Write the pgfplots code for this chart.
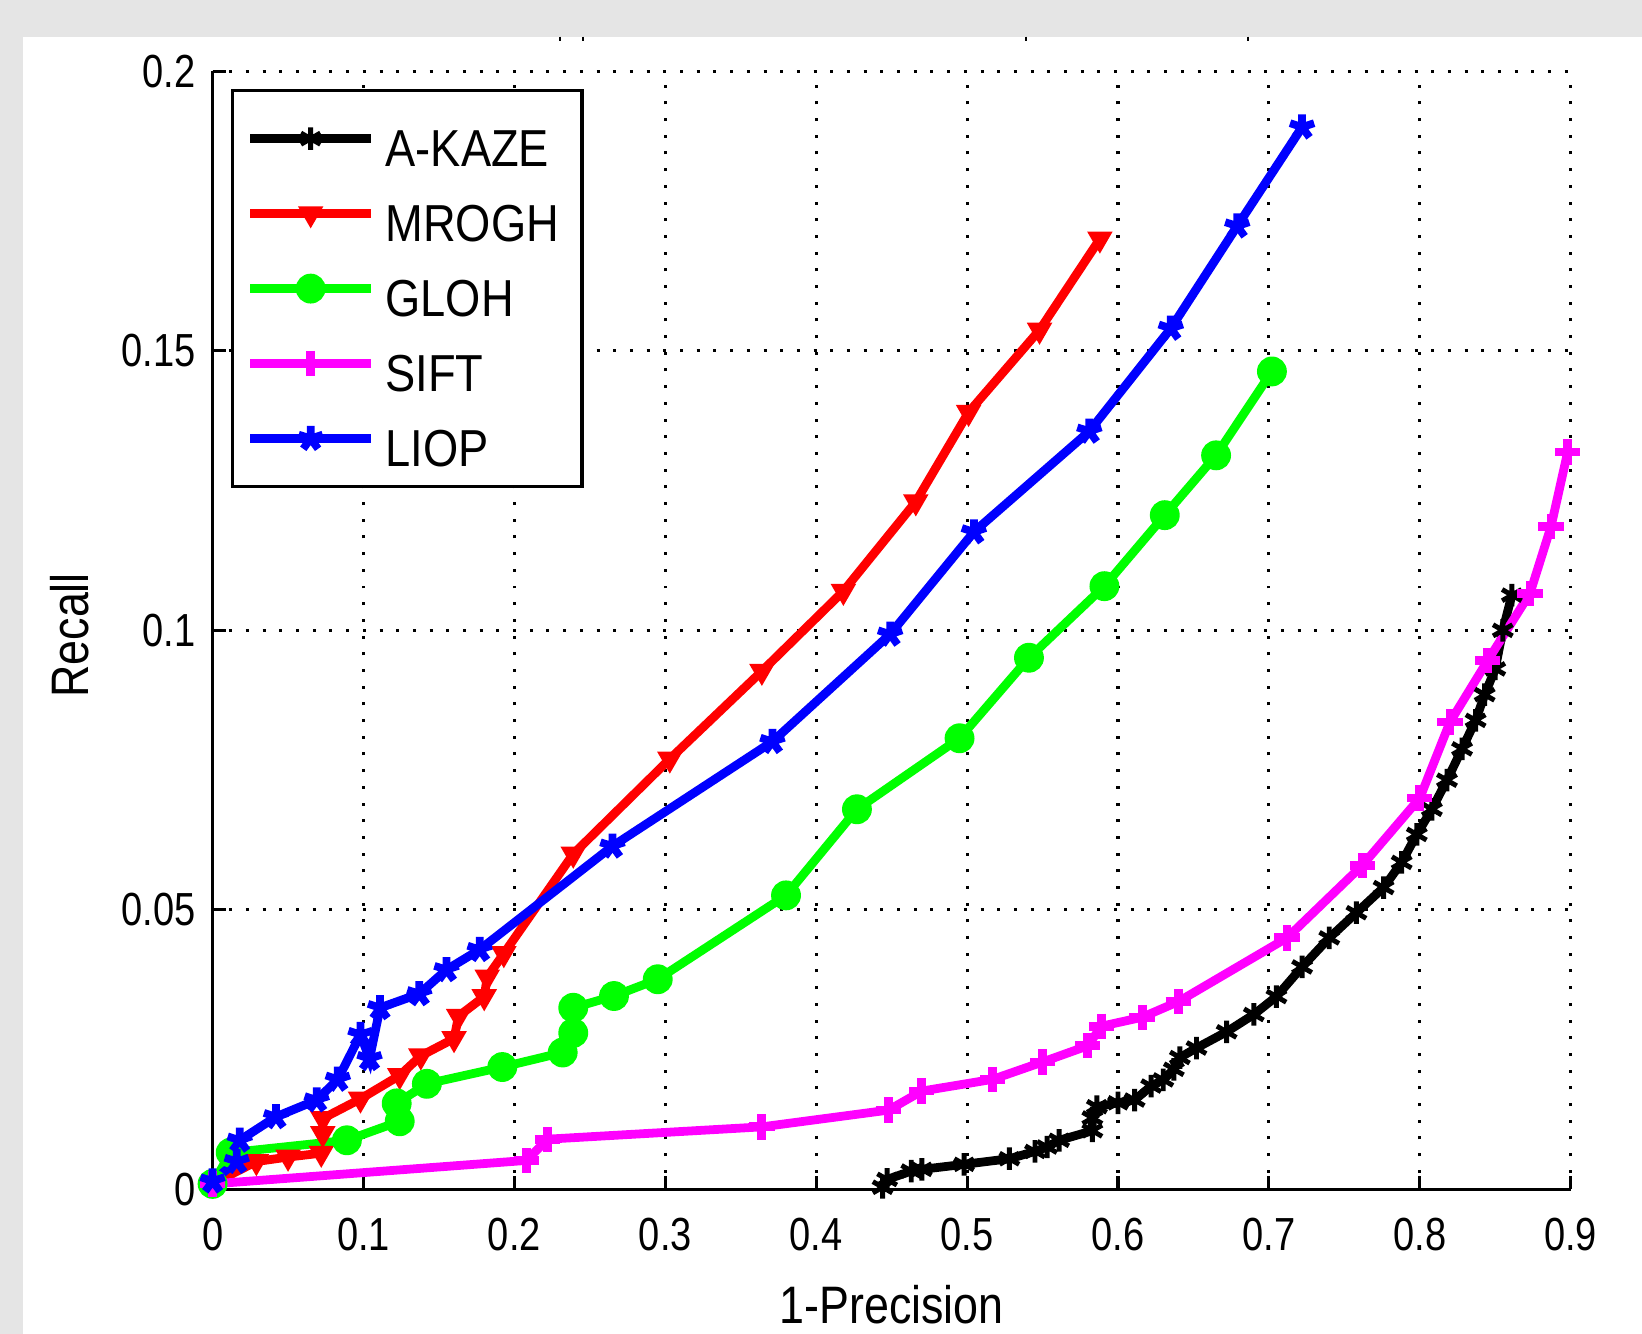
\documentclass[border=0pt]{standalone}
\usepackage{fontspec}
\setmainfont{Liberation Sans}
\newfontfamily\legfont{Liberation Sans}[FakeStretch=0.87]
\newfontfamily\labfont{Liberation Sans}[FakeStretch=0.85]
\newfontfamily\tickfont{Liberation Sans}[FakeStretch=0.82]
\usepackage{pgfplots}
\pgfplotsset{compat=1.18}
\definecolor{bggray}{RGB}{229,229,229}
\definecolor{mred}{RGB}{255,0,0}
\definecolor{mgreen}{RGB}{0,255,0}
\definecolor{mblue}{RGB}{0,0,255}
\definecolor{mmag}{RGB}{255,0,255}
\newcommand\ls{\rule[-0.075cm]{0pt}{0.68cm}}

\begin{document}
\begin{tikzpicture}
% figure background (gray margin top and left)
\fill[bggray] (-2.126,-1.445) rectangle (14.294,11.895);
\fill[white] (-1.896,-1.445) rectangle (14.294,11.529);
\foreach \x in {3.474,3.704,8.134,10.354} \draw[line width=0.7pt] (\x,11.529) -- (\x,11.48);

\begin{axis}[
    scale only axis,
    width=13.581cm,
    height=11.183cm,
    xmin=0, xmax=0.9,
    ymin=0, ymax=0.2,
    xtick={0,0.1,0.2,0.3,0.4,0.5,0.6,0.7,0.8,0.9},
    ytick={0,0.05,0.1,0.15,0.2},
    axis x line*=bottom,
    axis y line*=left,
    tick pos=left,
    tick align=inside,
    major tick length=0.13cm,
    tick style={black, line width=0.9pt},
    axis line style={black, line width=0.9pt},
    grid=major,
    grid style={black, line width=0.9pt, dash pattern=on 0.85pt off 3.9pt},
    ticklabel style={font=\tickfont\fontsize{13.2}{15}\selectfont},
    /pgf/number format/assume math mode=true,
    /pgf/number format/fixed,
    /pgf/number format/precision=2,
    xticklabel style={yshift=-0.165cm},
    yticklabel style={xshift=-0.045cm},
    xlabel={1-Precision},
    ylabel={Recall},
    label style={font=\labfont\fontsize{15}{17}\selectfont},
    xlabel style={at={(axis description cs:0.5,-0.103)}, anchor=center},
    ylabel style={at={(axis description cs:-0.1054,0.4955)}, anchor=center},
    clip=false,
    every axis plot/.append style={line width=2.5pt},
    legend image code/.code={
        \draw[mark repeat=2, mark phase=2] plot coordinates {(0cm,0cm) (0.605cm,0cm) (1.21cm,0cm)};
    },
    legend cell align=left,
    legend style={
        at={(axis description cs:0,1)},
        anchor=north west,
        xshift=0.186cm,
        yshift=-0.18cm,
        draw=black,
        line width=0.9pt,
        fill=white,
        font=\legfont\fontsize{14.8}{17}\selectfont,
        row sep=-0.068cm,
        inner xsep=0.13cm,
        inner ysep=0.07cm,
        nodes={inner xsep=0.1cm, inner ysep=0.08cm}
    },
]

% A-KAZE
\addplot[black, mark=asterisk, mark size=3.2pt, mark options={line width=1.4pt}] coordinates {
(0.444,0.0004) (0.447,0.0018) (0.463,0.0033) (0.470,0.0036) (0.498,0.0045)
(0.528,0.0055) (0.545,0.0068) (0.553,0.0076) (0.561,0.0088) (0.583,0.0105)
(0.583,0.0128) (0.586,0.0148) (0.600,0.0155) (0.611,0.0160) (0.622,0.0185)
(0.630,0.0196) (0.637,0.0215) (0.641,0.0236) (0.652,0.0253) (0.672,0.0282)
(0.690,0.0313) (0.705,0.0345) (0.722,0.0398) (0.740,0.0450) (0.758,0.0495)
(0.776,0.0540) (0.788,0.0585) (0.798,0.0635) (0.808,0.0680) (0.818,0.0732)
(0.828,0.0788) (0.837,0.0839) (0.843,0.0885) (0.850,0.0931) (0.855,0.1000)
(0.861,0.1063)
};

% MROGH
\addplot[mred, mark=triangle*, mark size=3.6pt, mark options={rotate=180, line width=0.6pt}] coordinates {
(0.000,0.0010) (0.029,0.0050) (0.050,0.0058) (0.072,0.0065) (0.073,0.0100)
(0.073,0.0127) (0.098,0.0162) (0.124,0.0204) (0.138,0.0239) (0.160,0.0270)
(0.163,0.0310) (0.180,0.0345) (0.182,0.0380) (0.193,0.0422) (0.239,0.0600)
(0.303,0.0770) (0.364,0.0927) (0.418,0.1070) (0.466,0.1230) (0.501,0.1390)
(0.548,0.1537) (0.588,0.1700)
};

% GLOH
\addplot[mgreen, mark=*, mark size=4pt, mark options={line width=0.5pt}] coordinates {
(0.000,0.0010) (0.012,0.0066) (0.089,0.0088) (0.124,0.0122) (0.122,0.0154)
(0.142,0.0189) (0.192,0.0219) (0.232,0.0245) (0.239,0.0280) (0.239,0.0325)
(0.266,0.0346) (0.295,0.0376) (0.380,0.0526) (0.427,0.0680) (0.495,0.0807)
(0.541,0.0951) (0.591,0.1079) (0.631,0.1206) (0.665,0.1313) (0.702,0.1463)
};

% SIFT
\addplot[mmag, mark=+, mark size=3.6pt, mark options={line width=2.5pt}] coordinates {
(0.000,0.0010) (0.208,0.0052) (0.222,0.0090) (0.364,0.0112) (0.448,0.0142)
(0.470,0.0176) (0.517,0.0197) (0.550,0.0228) (0.580,0.0257) (0.589,0.0292)
(0.616,0.0308) (0.640,0.0336) (0.712,0.0450) (0.762,0.0580) (0.800,0.0700)
(0.820,0.0836) (0.845,0.0946) (0.873,0.1066) (0.887,0.1186) (0.898,0.1319)
};

% LIOP
\addplot[mblue, mark=star, mark size=3.6pt, mark options={line width=2.2pt}] coordinates {
(0.000,0.0015) (0.016,0.0050) (0.018,0.0088) (0.042,0.0130) (0.069,0.0160)
(0.083,0.0197) (0.098,0.0277) (0.104,0.0234) (0.111,0.0325) (0.137,0.0350)
(0.155,0.0393) (0.177,0.0429) (0.265,0.0614) (0.371,0.0801) (0.449,0.0993)
(0.5045,0.1176) (0.581,0.1356) (0.635,0.1540) (0.679,0.1723) (0.722,0.1900)
};

\legend{\ls A-KAZE, \ls MROGH, \ls GLOH, \ls SIFT, \ls LIOP}
\end{axis}
\pgfresetboundingbox
\path[use as bounding box] (-2.126,-1.445) rectangle (14.294,11.895);
\end{tikzpicture}
\end{document}
